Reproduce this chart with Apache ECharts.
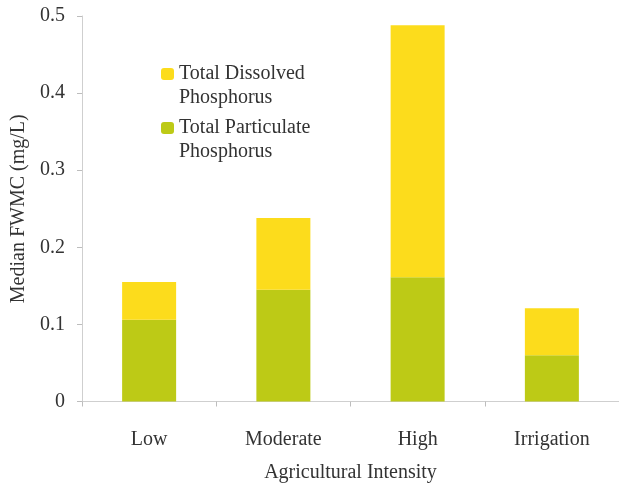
<!DOCTYPE html>
<html>
<head>
<meta charset="utf-8">
<script src="https://cdn.jsdelivr.net/npm/echarts@6/dist/echarts.min.js"></script>
<style>
html,body{margin:0;padding:0;background:#fff;}
#chart{width:619px;height:483px;}
</style>
</head>
<body>
<div id="chart"></div>
<script>
var categories = ['Low', 'Moderate', 'High', 'Irrigation'];
var particulate = [0.106, 0.145, 0.161, 0.060];
var dissolved = [0.049, 0.093, 0.327, 0.061];
var yTicks = [0, 0.1, 0.2, 0.3, 0.4, 0.5];
var seriesNames = ['Total Dissolved Phosphorus', 'Total Particulate Phosphorus'];
var legendLabels = {
  'Total Dissolved Phosphorus': 'Total Dissolved\nPhosphorus',
  'Total Particulate Phosphorus': 'Total Particulate\nPhosphorus'
};

var font = '"Liberation Serif", "DejaVu Serif", serif';
var chart = echarts.init(document.getElementById('chart'), null, {renderer: 'canvas'});
var L = 24;
function legendAt(name, top) {
  return {
    data: [name],
    orient: 'vertical',
    left: 161,
    top: top,
    itemWidth: 13,
    itemHeight: 12,
    itemGap: 0,
    padding: 0,
    selectedMode: false,
    formatter: function (n) { return '\n' + legendLabels[n]; },
    textStyle: {fontFamily: font, fontSize: 20, color: '#333', lineHeight: L}
  };
}
chart.setOption({
  animation: false,
  grid: {left: 82, right: 0, top: 16, bottom: 81.5, containLabel: false, outerBoundsMode: 'none'},
  legend: [legendAt(seriesNames[0], 38), legendAt(seriesNames[1], 92)],
  xAxis: {
    type: 'category',
    data: categories,
    name: 'Agricultural Intensity',
    nameLocation: 'middle',
    nameGap: 61,
    nameTextStyle: {fontFamily: font, fontSize: 20, color: '#333'},
    axisLine: {lineStyle: {color: '#cfcfcf', width: 1}},
    axisTick: {show: true, length: 5, lineStyle: {color: '#bdbdbd'}},
    axisLabel: {fontFamily: font, fontSize: 20, color: '#333', margin: 28}
  },
  yAxis: {
    type: 'value',
    min: yTicks[0],
    max: yTicks[yTicks.length - 1],
    interval: 0.1,
    name: 'Median FWMC (mg/L)',
    nameLocation: 'middle',
    nameGap: 49,
    nameTextStyle: {fontFamily: font, fontSize: 20, color: '#333'},
    axisLine: {show: true, lineStyle: {color: '#cfcfcf', width: 1}},
    axisTick: {show: true, length: 5, lineStyle: {color: '#bdbdbd'}},
    splitLine: {show: false},
    axisLabel: {fontFamily: font, fontSize: 20, color: '#333', margin: 17,
      formatter: function (v) { return String(Math.round(v * 10) / 10); }}
  },
  series: [
    {
      name: seriesNames[1], type: 'bar', stack: 'p', data: particulate,
      barWidth: 54, itemStyle: {color: '#bdca16'}
    },
    {
      name: seriesNames[0], type: 'bar', stack: 'p', data: dissolved,
      barWidth: 54, itemStyle: {color: '#fcdc1c'}
    }
  ]
});
</script>
</body>
</html>
